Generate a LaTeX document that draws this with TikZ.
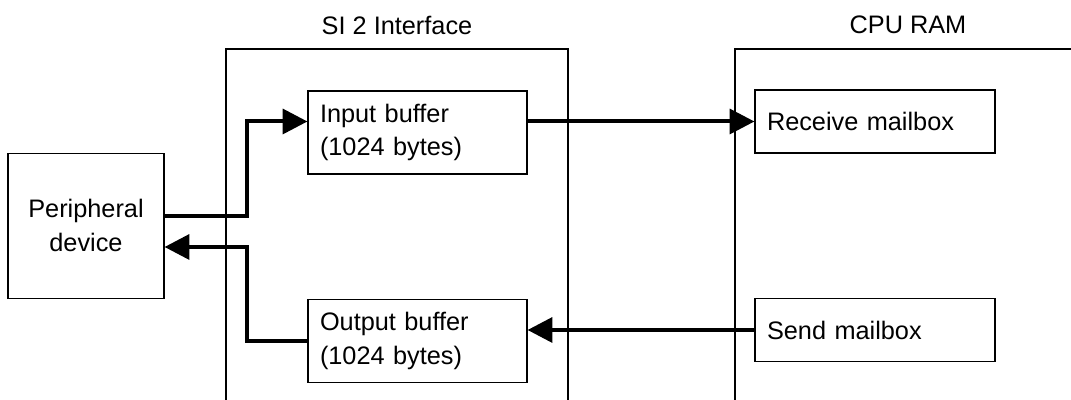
\documentclass[tikz,border=0pt]{standalone}
\usepackage{fontspec}
\setmainfont{Liberation Sans}
\usetikzlibrary{arrows.meta}

\begin{document}
\begin{tikzpicture}[
font=\fontsize{18}{24}\selectfont,
boxnode/.style={rectangle, draw, line width=0.8pt, inner ysep=0pt},
bufnode/.style={boxnode, inner xsep=0.3cm, text width=4.875cm, minimum height=2.075cm, align=left},
mailnode/.style={boxnode, inner xsep=0.3cm, text width=5.4cm, minimum height=1.575cm, align=left},
devnode/.style={boxnode, inner xsep=0pt, minimum width=3.9cm, minimum height=3.625cm, align=center},
frameline/.style={line width=0.8pt},
fat line/.style={line width=0.1cm, -{Triangle[length=0.62cm,width=0.62cm]}}
]
\useasboundingbox (0,0) rectangle (26.775,10);

%Frames
\draw[frameline] (5.65,-0.2) |- (14.2,8.775) -- (14.2,-0.2);
\draw[frameline] (18.375,-0.2) |- (27,8.775);
\node at (9.925,9.375) (silabel) {SI 2 Interface};
\node at (22.7,9.375) (cpulabel) {CPU RAM};

%Nodes
\node[devnode] at (2.15,4.36) (periph) {Peripheral\\device};
\node[bufnode] at (10.4375,6.6875) (in) {Input buffer\\(1024 bytes)};
\node[bufnode] at (10.4375,1.475) (out) {Output buffer\\(1024 bytes)};
\node[mailnode] at (21.875,6.9625) (recv) {Receive mailbox};
\node[mailnode] at (21.875,1.75) (send) {Send mailbox};

\coordinate (jointop) at (6.175,4.6);
\coordinate (joinbot) at (6.175,3.825);

%Lines
\draw[fat line] (periph.east |- jointop) -- (jointop) |- (in.west |- recv.west);
\draw[fat line] (in.east |- recv.west) -- (recv.west);
\draw[fat line] (send.west) -- (out.east |- send.west);
\draw[fat line] (out.west) -| (joinbot) -- (periph.east |- joinbot);
\end{tikzpicture}
\end{document}
